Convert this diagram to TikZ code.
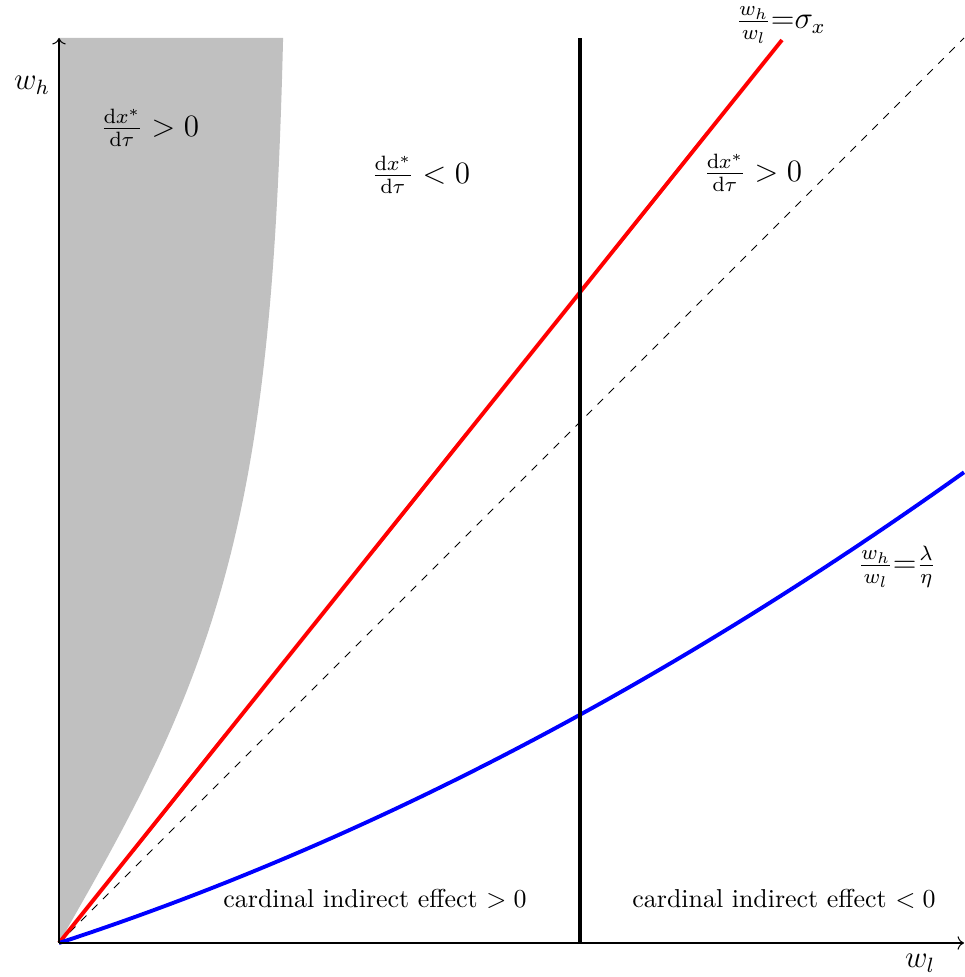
\documentclass[tikz,border=0pt]{standalone}
\usepackage{amsmath}
\usetikzlibrary{arrows.meta}
\definecolor{ShadeGrey}{HTML}{C0C0C0}

\begin{document}
\begin{tikzpicture}[
  x=0.386pt,y=0.386pt,
  axis/.style={->,line width=0.4pt},
  curve/.style={line width=1.5pt},
  lbl/.style={inner sep=1pt}
]
  \useasboundingbox (-59,-34) rectangle (905,943);
  \coordinate (O) at (0,0);
  \coordinate (xend) at (905,0);
  \coordinate (yend) at (0,905);
  \coordinate (sigend) at (723,903);
  \coordinate (diagend) at (905,905);
  \coordinate (cutlo) at (521,0);
  \coordinate (cuthi) at (521,905);
  % shaded region
  \fill[ShadeGrey] (yend) -- (O) -- plot[domain=0:905,samples=80] ({229*tanh(\x/400)},\x) -- cycle;
  % rays and curve
  \draw[dashed,line width=0.4pt] (O) -- (diagend);
  \draw[curve,red] (O) -- (sigend);
  \draw[curve,blue] plot[domain=0:905,samples=60] (\x,{0.3268*\x+0.00022*\x*\x});
  \draw[curve,black] (cutlo) -- (cuthi);
  % axes
  \draw[axis] (O) -- (xend);
  \draw[axis] (O) -- (yend);
  % labels
  \node[lbl] (wh) at (-27,858) {\large $w_h$};
  \node[lbl] (wl) at (861,-20) {\large $w_l$};
  \node[lbl] (posL) at (91,815) {\large $\frac{\mathrm{d}x^*}{\mathrm{d}\tau}>0$};
  \node[lbl] (neg) at (362,768) {\large $\frac{\mathrm{d}x^*}{\mathrm{d}\tau}<0$};
  \node[lbl] (posR) at (694,770) {\large $\frac{\mathrm{d}x^*}{\mathrm{d}\tau}>0$};
  \node[lbl] (sig) at (722,918) {\large $\frac{w_h}{w_l}{=}\sigma_x$};
  \node[lbl] (lam) at (838,376) {\large $\frac{w_h}{w_l}{=}\frac{\lambda}{\eta}$};
  \node[lbl] (cpos) at (316,44) {cardinal indirect effect $>0$};
  \node[lbl] (cneg) at (725,44) {cardinal indirect effect $<0$};
\end{tikzpicture}
\end{document}
